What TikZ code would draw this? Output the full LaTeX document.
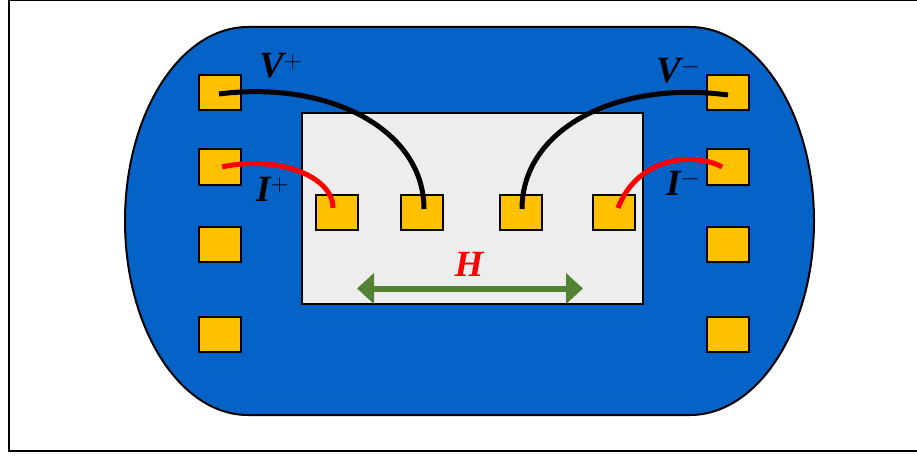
\documentclass[tikz,border=0pt]{standalone}
\usepackage{fontspec}
\setmainfont{Liberation Serif}
\usepackage{xcolor}
\usetikzlibrary{calc, positioning, arrows.meta}
\definecolor{chipblue}{RGB}{5,99,200}
\definecolor{padyellow}{RGB}{255,192,0}
\definecolor{holdergrey}{RGB}{237,237,237}
\definecolor{arrowgreen}{RGB}{84,130,53}
\tikzset{
  pad/.style={draw=black,line width=2pt,fill=padyellow,minimum width=42pt,minimum height=35pt,inner sep=0pt},
  holder/.style={draw=black,line width=2pt,fill=holdergrey,minimum width=341pt,minimum height=191pt,inner sep=0pt},
  bigtext/.style={inner sep=0pt,font=\fontsize{37}{37}\selectfont\bfseries\itshape},
  blackwire/.style={draw=black,line width=5pt},
  redwire/.style={draw=red,line width=5pt},
}
\begin{document}
\begin{tikzpicture}[x=1pt,y=-1pt]
\useasboundingbox (0,0) rectangle (917,457);
\draw[line width=2.5pt,fill=white] (9,0) rectangle (925,451);

\draw[line width=2pt,fill=chipblue] (248,27) -- (690,27)
  .. controls (758,27) and (814,114) .. (814,221)
  .. controls (814,328) and (758,415) .. (690,415)
  -- (248,415)
  .. controls (180,415) and (125,328) .. (125,221)
  .. controls (125,114) and (180,27) .. (248,27) -- cycle;

\node[holder] (sample) at (472.5,208.5) {};

\node[pad] (l1) at (220,93) {};
\node[pad,below=37pt of l1] (l2) {};
\node[pad,below=40pt of l2] (l3) {};
\node[pad,below=53pt of l3] (l4) {};
\node[pad] (r1) at (728,93) {};
\node[pad,below=37pt of r1] (r2) {};
\node[pad,below=40pt of r2] (r3) {};
\node[pad,below=53pt of r3] (r4) {};

\node[pad] (s1) at (337,212) {};
\node[pad,right=41pt of s1] (s2) {};
\node[pad,right=55pt of s2] (s3) {};
\node[pad,right=49pt of s3] (s4) {};

\draw[blackwire] ($(l1.center)+(-1,1)$) .. controls (330,80) and (424,130) .. ($(s2.center)+(2,-3)$);
\draw[redwire] ($(l2.center)+(2,0)$) .. controls (275,155) and (333,175) .. ($(s1.center)+(-4,-4)$);
\draw[blackwire] ($(r1.center)+(0,2)$) .. controls (615,80) and (522,130) .. ($(s3.center)+(1,-3)$);
\draw[redwire] ($(r2.center)+(-6,0)$) .. controls (695,152) and (638,156) .. ($(s4.center)+(4,-4)$);

\coordinate (hl) at (357,288.5);
\coordinate (hr) at (583,288.5);
\draw[{Triangle[length=17pt,width=30pt]}-{Triangle[length=17pt,width=30pt]},arrowgreen,line width=6pt] (hl) -- (hr);
\node[bigtext,text=red] (hlabel) at (469,264) {H};

\node[bigtext,anchor=base west] (vp) at (259,78) {V$^{+}$};
\node[bigtext,anchor=base west] (ip) at (256,201) {I$^{+}$};
\node[bigtext,anchor=base west] (vm) at (656,83) {V$^{-}$};
\node[bigtext,anchor=base west] (im) at (666,195) {I$^{-}$};
\end{tikzpicture}
\end{document}
